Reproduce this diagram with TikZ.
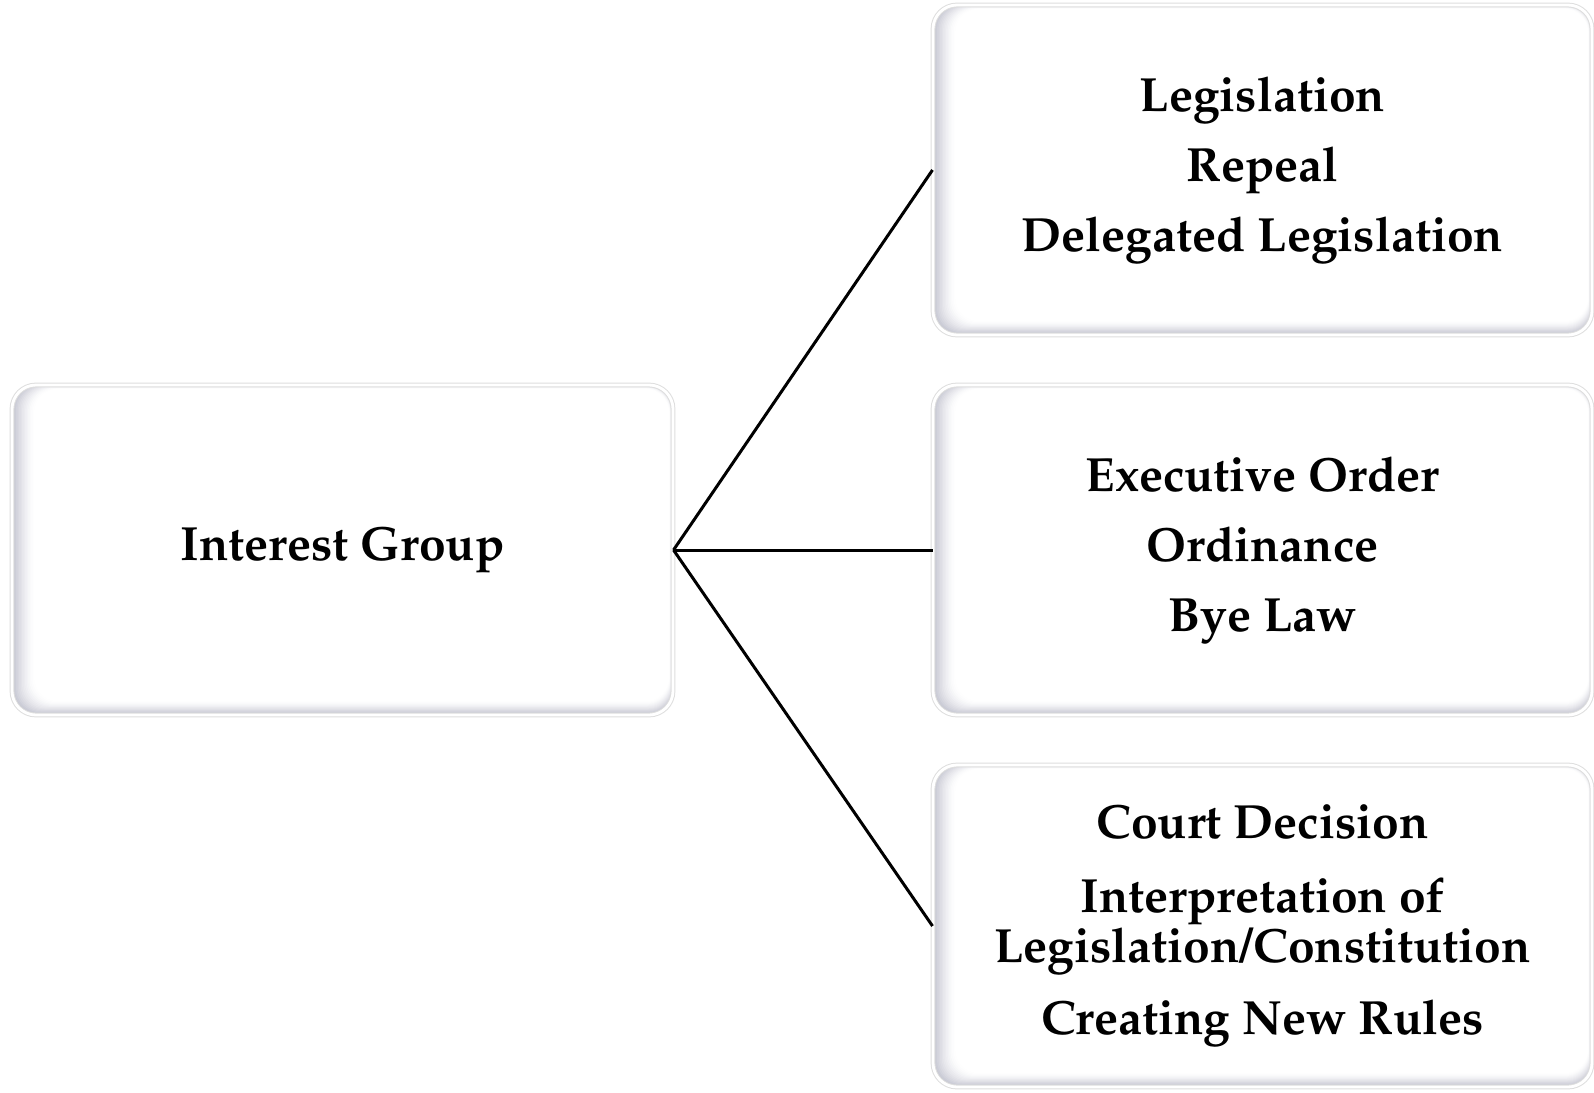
\documentclass[tikz,border=0pt]{standalone}
\usepackage[T1]{fontenc}
\usepackage{mathpazo}
\usetikzlibrary{backgrounds,calc}
\definecolor{bevel}{RGB}{198,199,210}

\begin{document}
\begin{tikzpicture}[x=0.5pt, y=-0.5pt,
   card/.style={rounded corners=12pt, draw=black!13, double=white, double distance=1.4pt, line width=0.5pt,
      minimum width=329.5pt, minimum height=165pt, align=center, inner sep=0pt,
      font=\bfseries\fontsize{24}{35}\selectfont},
   link/.style={line width=1.5pt}]
   \useasboundingbox (0,0) rectangle (1594,1092);

   \node[card, minimum width=330.5pt] (ig) at (342.5,550) {Interest Group};
   \node[card] (legis) at (1262.5,170) {Legislation\\Repeal\\Delegated Legislation};
   \node[card] (exec) at (1262.5,550) {Executive Order\\Ordinance\\Bye Law};
   \node[card, minimum height=161pt, font=\bfseries\fontsize{24}{25}\selectfont] (court) at (1262.5,926)
      {Court Decision\\[12pt]Interpretation of\\Legislation/Constitution\\[11pt]Creating New Rules};

   % soft inner shadow of the cards
   \begin{scope}[on background layer]
   \foreach \n in {ig,legis,exec,court} {
      \begin{scope}
      \clip[rounded corners=12pt] (\n.south west) rectangle (\n.north east);
      \foreach \k in {0,...,14} {
         \pgfmathtruncatemacro\p{100*(1-\k/14)^1.5}
         \fill[bevel!\p!white, rounded corners=12pt]
            ($(\n.south west)+({1.5+1.5*\k},{-1.5-0.9*\k})$)
            rectangle ($(\n.north east)+({-0.3*\k},{0.3*\k})$);
      }
      \end{scope}
   }
   \end{scope}

   \draw[link] (ig.east) -- (legis.west);
   \draw[link] (ig.east) -- (exec.west);
   \draw[link] (ig.east) -- (court.west);

   \end{tikzpicture}
\end{document}
